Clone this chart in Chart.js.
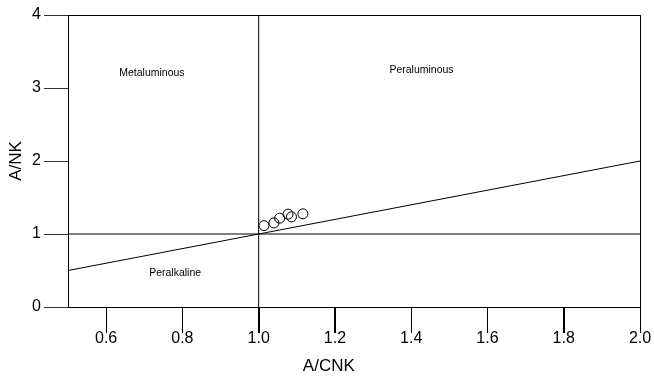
<!DOCTYPE html>
<html>
<head>
<meta charset="utf-8">
<script src="https://cdn.jsdelivr.net/npm/chart.js@4"></script>
<style>
  html, body { margin: 0; padding: 0; background: #fff; }
  #wrap { width: 654px; height: 380px; }
</style>
</head>
<body>
<div id="wrap"><canvas id="acnk"></canvas></div>
<script>
// sample points (A/CNK, A/NK)
const sampleACNK = [1.014, 1.040, 1.055, 1.077, 1.086, 1.116];
const sampleANK  = [1.115, 1.152, 1.217, 1.272, 1.235, 1.276];

// field boundaries
const horizX = [0.5, 2.0];
const horizY = [1, 1];
const vertX = [1, 1];
const vertY = [0, 4];
const diagX = [0.5, 2.0];
const diagY = [0.5, 2.0];

// tick labels
const xTickVals = [0.6, 0.8, 1.0, 1.2, 1.4, 1.6, 1.8, 2.0];
const yTickVals = [0, 1, 2, 3, 4];

// field names and where they sit (data coords)
const fieldNames = ['Metaluminous', 'Peraluminous', 'Peralkaline'];
const fieldX = [0.720, 1.427, 0.781];
const fieldY = [3.21, 3.24, 0.47];

const xTitle = 'A/CNK';

function toPts(xs, ys) {
    return xs.map(function (x, i) { return { x: x, y: ys[i] }; });
}

const lineStyle = {
    type: 'line',
    borderColor: '#000',
    borderWidth: 1,
    pointRadius: 0,
    fill: false,
    tension: 0
};

const frameAndLabels = {
    id: 'frameAndLabels',
    afterDatasetsDraw: function (chart) {
        const ctx = chart.ctx;
        const a = chart.chartArea;
        const xs = chart.scales.x, ys = chart.scales.y;
        ctx.save();
        ctx.strokeStyle = '#000';
        ctx.lineWidth = 1;
        ctx.strokeRect(Math.round(a.left) + 0.5, Math.round(a.top) + 0.5,
            Math.round(a.right - a.left), Math.round(a.bottom - a.top));
        // tick marks below the x axis, running through the labels
        ctx.beginPath();
        xs.ticks.forEach(function (t) {
            const px = Math.round(xs.getPixelForValue(t.value)) + 0.5;
            ctx.moveTo(px, Math.round(a.bottom));
            ctx.lineTo(px, Math.round(a.bottom) + 26);
        });
        ctx.stroke();
        ctx.fillStyle = '#000';
        ctx.font = '10.5px "Liberation Sans", Arial, sans-serif';
        ctx.textAlign = 'center';
        ctx.textBaseline = 'middle';
        fieldNames.forEach(function (name, i) {
            ctx.fillText(name, xs.getPixelForValue(fieldX[i]), ys.getPixelForValue(fieldY[i]));
        });
        // x axis title, sits a bit left of centre like the original
        ctx.font = '17px "Liberation Sans", Arial, sans-serif';
        ctx.fillText(xTitle, a.left + (a.right - a.left) * 0.456, 366);
        ctx.restore();
    }
};

new Chart(document.getElementById('acnk').getContext('2d'), {
    type: 'scatter',
    data: {
        datasets: [
            Object.assign({ data: toPts(horizX, horizY) }, lineStyle),
            Object.assign({ data: toPts(vertX, vertY) }, lineStyle),
            Object.assign({ data: toPts(diagX, diagY) }, lineStyle),
            {
                data: toPts(sampleACNK, sampleANK),
                pointStyle: 'circle',
                pointRadius: 5,
                pointBorderWidth: 1,
                borderColor: '#000',
                backgroundColor: 'rgba(0,0,0,0)',
                showLine: false
            }
        ]
    },
    options: {
        responsive: true,
        maintainAspectRatio: false,
        animation: false,
        layout: { padding: { top: 15, right: 14, left: 0, bottom: 0 } },
        plugins: {
            legend: { display: false },
            tooltip: { enabled: false }
        },
        scales: {
            x: {
                type: 'linear',
                min: 0.5,
                max: 2.0,
                afterBuildTicks: function (scale) {
                    scale.ticks = xTickVals.map(function (v) { return { value: v }; });
                },
                afterFit: function (scale) { scale.height = 73; },
                grid: { drawOnChartArea: false, drawTicks: true, tickLength: 26, tickColor: '#000' },
                border: { display: true, color: '#000' },
                ticks: {
                    autoSkip: false,
                    maxRotation: 0,
                    padding: -4,
                    color: '#000',
                    font: { family: '"Liberation Sans", Arial, sans-serif', size: 16 },
                    callback: function (v) { return Number(v).toFixed(1); }
                },
                title: { display: false }
            },
            y: {
                type: 'linear',
                min: 0,
                max: 4,
                afterBuildTicks: function (scale) {
                    scale.ticks = yTickVals.map(function (v) { return { value: v }; });
                },
                afterFit: function (scale) { scale.width = 68; },
                grid: { drawOnChartArea: false, drawTicks: true, tickLength: 24, tickColor: '#333' },
                border: { display: true, color: '#000' },
                ticks: {
                    padding: 3,
                    color: '#000',
                    font: { family: '"Liberation Sans", Arial, sans-serif', size: 16 },
                    callback: function (v) { return String(v); }
                },
                title: {
                    display: true,
                    text: 'A/NK',
                    color: '#000',
                    font: { family: '"Liberation Sans", Arial, sans-serif', size: 17 },
                    padding: { top: 6, bottom: 0 }
                }
            }
        }
    },
    plugins: [frameAndLabels]
});
</script>
</body>
</html>
